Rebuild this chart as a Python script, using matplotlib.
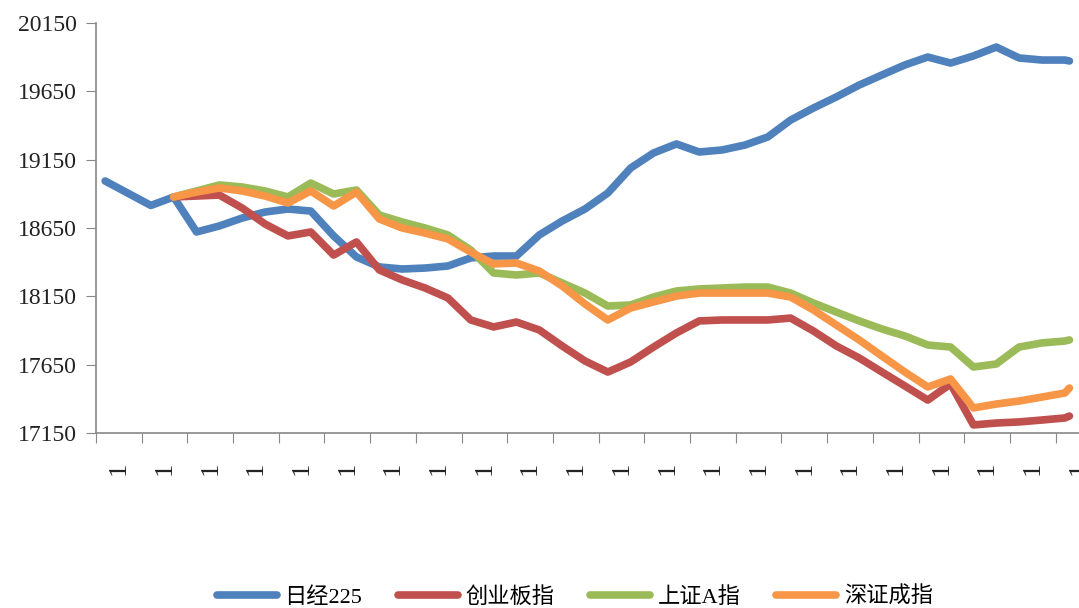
import numpy as np
import matplotlib.pyplot as plt

# x positions in category units (axis spans 0..21.5 categories)
x_all = [0.2] + [1.2 + 0.5 * i for i in range(41)] + [21.3]
x_rest = x_all[2:]

nikkei = [18994, 18815, 18877, 18621, 18665, 18723, 18767, 18789, 18774, 18592,
          18438, 18365, 18350, 18357, 18372, 18431, 18445, 18445, 18599, 18701,
          18789, 18906, 19089, 19199, 19265, 19206, 19221, 19257, 19316, 19440,
          19528, 19609, 19696, 19770, 19843, 19901, 19857, 19909, 19974, 19894,
          19879, 19879, 19872]
chinext = [18877, 18884, 18891, 18796, 18679, 18592, 18621, 18452, 18548, 18343,
           18270, 18211, 18138, 17977, 17926, 17962, 17904, 17787, 17677, 17596,
           17670, 17779, 17882, 17970, 17977, 17977, 17977, 17991, 17896, 17787,
           17699, 17596, 17494, 17391, 17509, 17209, 17223, 17231, 17245, 17260,
           17274]
sse_a = [18877, 18921, 18965, 18950, 18921, 18877, 18979, 18899, 18928, 18745,
         18694, 18650, 18599, 18489, 18321, 18306, 18321, 18248, 18174, 18079,
         18087, 18145, 18189, 18204, 18211, 18218, 18218, 18174, 18101, 18035,
         17970, 17911, 17860, 17794, 17779, 17633, 17655, 17779, 17809, 17823,
         17831]
szse = [18877, 18913, 18943, 18921, 18884, 18833, 18921, 18811, 18913, 18716,
        18650, 18613, 18570, 18474, 18387, 18394, 18335, 18226, 18094, 17977,
        18065, 18109, 18152, 18174, 18174, 18174, 18174, 18145, 18050, 17940,
        17831, 17713, 17596, 17487, 17545, 17333, 17362, 17384, 17413, 17443,
        17479]

names = ["日经225", "创业板指", "上证A指", "深证成指"]
colors = ["#4F81BD", "#C0504D", "#9BBB59", "#F79646"]
y_ticks = [17150, 17650, 18150, 18650, 19150, 19650, 20150]
n_cats = 22
cat_labels = ["1"] * n_cats

plt.rcParams["font.family"] = ["Liberation Serif", "Noto Sans CJK SC", "DejaVu Sans"]

fig = plt.figure(figsize=(10.79, 6.08), dpi=100)
ax = fig.add_axes([96 / 1079, 1 - 433 / 608, 983 / 1079, 410 / 608])

series = [(x_all, nikkei), (x_rest, chinext), (x_rest, sse_a), (x_rest, szse)]
for (xs, ys), name, c in zip(series, names, colors):
    ax.plot(xs, ys, color=c, lw=5.5, label=name,
            solid_capstyle="round", solid_joinstyle="round")

ax.set_ylim(17150, 20150)
ax.set_xlim(0, 21.51)
ax.set_yticks(y_ticks)
ax.set_yticklabels([str(v) for v in y_ticks], fontsize=17, color="#222222")

# ticks between categories, labels (lying on their side) at category centres
ax.set_xticks(np.arange(n_cats))
ax.set_xticklabels([])
ax.set_xticks(np.arange(n_cats) + 0.5, minor=True)
ax.set_xticklabels(cat_labels, minor=True, fontsize=19, color="#222222")
ax.tick_params(axis="x", which="minor", length=0, pad=20.5, labelrotation=90)
ax.tick_params(axis="x", which="major", direction="out", length=7.5, color="#888888")
ax.tick_params(axis="y", direction="out", length=7.5, color="#888888", pad=6)

for s in ["top", "right"]:
    ax.spines[s].set_visible(False)
for s in ["left", "bottom"]:
    ax.spines[s].set_color("#888888")
    ax.spines[s].set_linewidth(1.2)

handles, labels = ax.get_legend_handles_labels()
fig.legend(handles, labels, loc="center", bbox_to_anchor=(575 / 1079, 1 - 597 / 608),
           ncol=4, frameon=False, fontsize=16, handlelength=2.7, handletextpad=0.35,
           columnspacing=1.6)

fig.savefig("out.png", dpi=100)
